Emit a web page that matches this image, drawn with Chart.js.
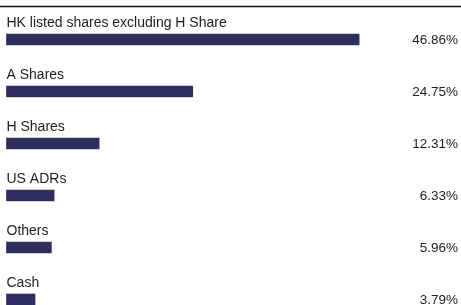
<!DOCTYPE html>
<html>
<head>
<meta charset="utf-8">
<script src="https://cdn.jsdelivr.net/npm/chart.js@4/dist/chart.umd.min.js"></script>
<style>
    html, body { margin: 0; padding: 0; background: #fff; }
    #wrap { position: relative; width: 461px; height: 305px; }
</style>
</head>
<body>
<div id="wrap"><canvas id="chart"></canvas></div>
<script>
'use strict';

const categories = [
    'HK listed shares excluding H Share',
    'A Shares',
    'H Shares',
    'US ADRs',
    'Others',
    'Cash'
];
const weights = [46.86, 24.75, 12.31, 6.33, 5.96, 3.79];
const weightLabels = ['46.86%', '24.75%', '12.31%', '6.33%', '5.96%', '3.79%'];

(function(){

    const barColor = '#2d2d5f';
    const textColor = '#1e1e1e';
    const labelFont = '14px "Liberation Sans", Arial, sans-serif';
    const valueFont = '13.5px "Liberation Sans", Arial, sans-serif';

    // rule on top + category name above each bar + value on the right
    const labelsPlugin = {
        id: 'labels',
        afterDatasetsDraw: function(chart) {
            let ctx = chart.ctx;
            let meta = chart.getDatasetMeta(0);
            ctx.save();

            ctx.strokeStyle = '#111';
            ctx.lineWidth = 1.5;
            ctx.beginPath();
            ctx.moveTo(0, 6.5);
            ctx.lineTo(chart.width, 6.5);
            ctx.stroke();

            ctx.fillStyle = textColor;
            ctx.textBaseline = 'alphabetic';
            meta.data.forEach(function(bar, i) {
                ctx.font = labelFont;
                ctx.textAlign = 'left';
                ctx.fillText(categories[i], 6.5, bar.y - 12.5);
                ctx.font = valueFont;
                ctx.textAlign = 'right';
                ctx.fillText(weightLabels[i], 458, bar.y + 4.5);
            });
            ctx.restore();
        }
    };

    new Chart(document.getElementById('chart').getContext('2d'), {
        type: 'bar',
        data: {
            labels: categories,
            datasets: [{
                data: weights,
                backgroundColor: barColor,
                borderWidth: 0,
                barThickness: 11,
                clip: false
            }]
        },
        options: {
            indexAxis: 'y',
            responsive: true,
            maintainAspectRatio: false,
            animation: false,
            layout: {
                padding: { left: 6.5, right: 3, top: 39.5, bottom: 5.5 }
            },
            scales: {
                x: { display: false, min: 0, max: 60 },
                y: { display: false, offset: false }
            },
            plugins: {
                legend: { display: false },
                tooltip: { enabled: false }
            }
        },
        plugins: [labelsPlugin]
    });
})();
</script>
</body>
</html>
